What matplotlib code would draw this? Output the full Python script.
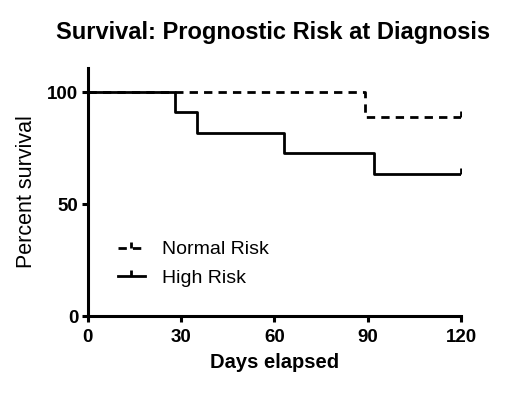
import matplotlib
matplotlib.use('Agg')
import matplotlib.pyplot as plt
from matplotlib.lines import Line2D

# Kaplan-Meier step data
normal_days = [0, 89, 120]
normal_surv = [100, 88.9, 88.9]
high_days = [0, 28, 35, 63, 92, 120]
high_surv = [100, 90.9, 81.8, 72.7, 63.6, 63.6]
x_ticks = [0, 30, 60, 90, 120]
y_ticks = [0, 50, 100]

plt.rcParams['font.family'] = ['Liberation Sans', 'DejaVu Sans']

fig = plt.figure(figsize=(5.2, 3.96), dpi=100)
ax = fig.add_axes([0.169, 0.202, 0.7175, 0.626])

dash = (0, (3, 2.2))
censor = [(0, 0), (0, 1)]  # small upward tick
ax.step(normal_days, normal_surv, where='post', color='black', lw=2,
        linestyle=dash)
ax.step(high_days, high_surv, where='post', color='black', lw=2)
# censored ticks at end of follow-up
ax.plot(normal_days[-1], normal_surv[-1], marker=censor, color='black', ms=8, mew=2)
ax.plot(high_days[-1], high_surv[-1], marker=censor, color='black', ms=8, mew=2)

ax.set_xlim(0, 120)
ax.set_ylim(0, 110.7)
ax.set_xticks(x_ticks)
ax.set_yticks(y_ticks)
for s in ['top', 'right']:
    ax.spines[s].set_visible(False)
for s in ['left', 'bottom']:
    ax.spines[s].set_linewidth(2.2)
ax.tick_params(width=2.2, length=4.5, labelsize=13.5)
ax.tick_params(axis='x', pad=5)
ax.tick_params(axis='y', pad=2.5)
for lab in ax.get_xticklabels() + ax.get_yticklabels():
    lab.set_fontweight('bold')

ax.set_xlabel('Days elapsed', fontsize=14.5, fontweight='bold', labelpad=5)
ax.set_ylabel('Percent survival', fontsize=15.5, labelpad=7)
fig.text(0.526, 0.919, 'Survival: Prognostic Risk at Diagnosis', fontsize=17,
         fontweight='bold', ha='center', va='center')

handles = [
    Line2D([], [], color='black', lw=2, linestyle=dash, marker=censor, ms=8, mew=2),
    Line2D([], [], color='black', lw=2, marker=censor, ms=8, mew=2),
]
ax.legend(handles, ['Normal Risk', 'High Risk'], loc='lower left',
          bbox_to_anchor=(0.08, 0.118), frameon=False, fontsize=14,
          numpoints=1, handlelength=1.4, handletextpad=0.88, labelspacing=0.55,
          borderaxespad=0, borderpad=0)

fig.savefig('out.png', dpi=100)
